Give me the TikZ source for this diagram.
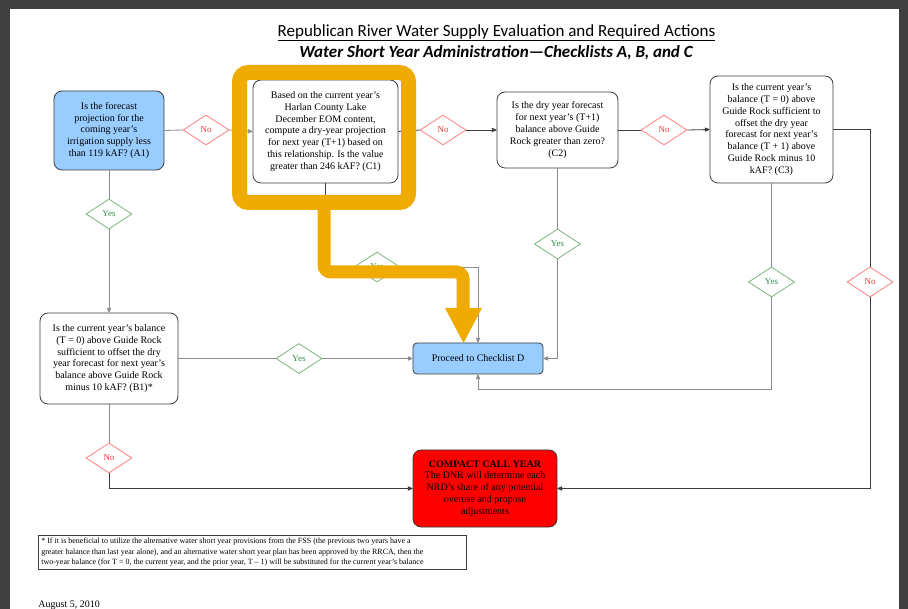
\documentclass[tikz,border=0pt]{standalone}
\usepackage{fontspec}
\setmainfont{Liberation Serif}
\newfontfamily\titlefont{Carlito}
\usetikzlibrary{arrows,shapes.geometric}

\definecolor{boxblue}{HTML}{99CCFF}
\definecolor{callred}{HTML}{FF0000}
\definecolor{calltext}{HTML}{000000}
\definecolor{hiorange}{HTML}{F0AB00}
\definecolor{yesgreen}{HTML}{7DB57D}
\definecolor{yestext}{HTML}{2F8F4F}
\definecolor{nored}{HTML}{FF8080}
\definecolor{notext}{HTML}{F03838}
\definecolor{edgegray}{HTML}{8C8C8C}
\definecolor{edgedark}{HTML}{3C3C3C}
\definecolor{pagedark}{HTML}{404040}

\begin{document}
\begin{tikzpicture}[x=1pt,y=-1pt,>=stealth',line width=0.8pt,
  every node/.style={align=center,font=\fontsize{10}{11.8}\selectfont},
  qbox/.style={draw=edgedark,rectangle,rounded corners=8pt,fill=white,inner sep=2pt},
  yesdia/.style={draw=yesgreen,diamond,aspect=1.5,fill=white,inner sep=0pt,minimum width=46pt,minimum height=30pt,text=yestext,font=\fontsize{9}{10}\selectfont},
  nodia/.style={yesdia,draw=nored,text=notext}]
\fill[pagedark] (0,0) rectangle (908,609);
\fill[white] (10,9) rectangle (899,609);
\useasboundingbox (0,0) rectangle (908,609);

\node[font=\titlefont\fontsize{17}{20}\selectfont] (title) at (496.5,33) {\underline{Republican River Water Supply Evaluation and Required Actions}};
\node[font=\titlefont\bfseries\itshape\fontsize{17}{20}\selectfont] (subtitle) at (496,53) {Water Short Year Administration—Checklists A, B, and C};

\node[qbox,fill=boxblue,minimum width=110,minimum height=79] (A1) at (109,130.5) {Is the forecast\\projection for the\\coming year's\\irrigation supply less\\than 119 kAF? (A1)};
\node[qbox,minimum width=145,minimum height=103] (C1) at (325.5,131.5) {Based on the current year's\\Harlan County Lake\\December EOM content,\\compute a dry-year projection\\for next year (T+1) based on\\this relationship. Is the value\\greater than 246 kAF? (C1)};
\node[qbox,minimum width=121,minimum height=76] (C2) at (557.5,130) {Is the dry year forecast\\for next year's (T+1)\\balance above Guide\\Rock greater than zero?\\(C2)};
\node[qbox,minimum width=123,minimum height=107] (C3) at (771.5,129.5) {Is the current year's\\balance (T = 0) above\\Guide Rock sufficient to\\offset the dry year\\forecast for next year's\\balance (T + 1) above\\Guide Rock minus 10\\kAF? (C3)};
\node[qbox,minimum width=138,minimum height=91] (B1) at (109,358.5) {Is the current year's balance\\(T = 0) above Guide Rock\\sufficient to offset the dry\\year forecast for next year's\\balance above Guide Rock\\minus 10 kAF? (B1)*};
\node[qbox,fill=boxblue,rounded corners=4pt,minimum width=130,minimum height=31] (D) at (478,358.5) {Proceed to Checklist D};
\node[qbox,fill=callred,text=calltext,minimum width=144,minimum height=77] (CC) at (485,488.5) {{\bfseries COMPACT CALL YEAR}\\The DNR will determine each\\NRD's share of any potential\\overuse and propose\\adjustments};

\node[nodia] (noA1) at (206,130) {No};
\node[nodia] (noC1) at (443,130) {No};
\node[nodia] (noC2) at (664,130) {No};
\node[yesdia] (yesA1) at (109,214) {Yes};
\node[yesdia] (yesC1) at (377,267) {Yes};
\node[yesdia] (yesC2) at (557.5,244) {Yes};
\node[yesdia] (yesB1) at (299,358.5) {Yes};
\node[nodia] (noB1) at (109,458) {No};
\node[yesdia] (yesC3) at (771.5,282) {Yes};
\node[nodia] (noC3) at (870,282) {No};
\coordinate (c3turn) at (771.5,389);

\draw[edgegray] (A1.east) -- (noA1.west);
\draw[->,edgegray] (noA1.east) -- (C1.west);
\draw[edgedark] (C1.east) -- (noC1.west);
\draw[->,edgedark] (noC1.east) -- (C2.west);
\draw[edgedark] (C2.east) -- (noC2.west);
\draw[->,edgedark] (noC2.east) -- (C3.west);
\draw[edgegray] (A1.south) -- (yesA1.north);
\draw[->,edgegray] (yesA1.south) -- (B1.north);
\draw[edgegray] (B1.east) -- (yesB1.west);
\draw[->,edgegray] (yesB1.east) -- (D.west);
\draw[edgegray] (B1.south) -- (noB1.north);
\draw[->,edgedark] (noB1.south) |- (CC.west);
\draw[edgedark] (C1.south) |- (yesC1.west);
\draw[->,edgegray] (yesC1.east) -| (D.north);
\draw[edgegray] (C2.south) -- (yesC2.north);
\draw[->,edgegray] (yesC2.south) |- (D.east);
\draw[edgegray] (C3.south) -- (yesC3.north);
\draw[->,edgegray] (yesC3.south) -- (c3turn) -| (D.south);
\draw[edgedark] (C3.east) -| (noC3.north);
\draw[->,edgedark] (noC3.south) |- (CC.east);

\node[draw=edgedark,line width=0.6pt,anchor=north west,align=flush left,inner sep=3pt,text width=422pt,font=\fontsize{8}{10.5}\selectfont] (note) at (38,535) {* If it is beneficial to utilize the alternative water short year provisions from the FSS (the previous two years have a\\greater balance than last year alone), and an alternative water short year plan has been approved by the RRCA, then the\\two-year balance (for T = 0, the current year, and the prior year, T – 1) will be substituted for the current year's balance};
\node[anchor=north west,inner sep=0pt] (date) at (38,600) {August 5, 2010};

% highlight
\draw[hiorange,line width=15pt,rounded corners=9pt] (239.5,72.5) rectangle (408.5,202.5);
\draw[hiorange,line width=13pt,rounded corners=7pt] (324,205) -- (324,272) -- (463,272) -- (463,310);
\fill[hiorange] (445,308) -- (482,308) -- (463.5,343) -- cycle;
\end{tikzpicture}
\end{document}
